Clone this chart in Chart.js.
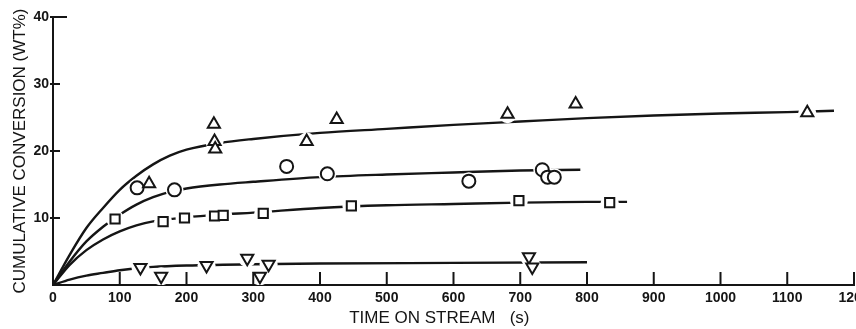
<!DOCTYPE html>
<html>
<head>
<meta charset="utf-8">
<script src="https://cdn.jsdelivr.net/npm/chart.js@4/dist/chart.umd.min.js"></script>
<style>
  html, body { margin: 0; padding: 0; background: #fff; }
  #wrap { width: 856px; height: 329px; overflow: hidden; }
</style>
</head>
<body>
<div id="wrap"><canvas id="chart" width="856" height="329"></canvas></div>
<script>
const triX = [144, 241, 242, 243, 380, 425, 681, 783, 1130]
const triY = [15.1, 24.0, 21.4, 20.3, 21.4, 24.7, 25.5, 27.0, 25.7]
const circX = [126, 182, 350, 411, 623, 733, 741, 751]
const circY = [14.5, 14.2, 17.7, 16.6, 15.5, 17.2, 16.1, 16.1]
const sqX = [93, 165, 197, 242, 255, 315, 447, 698, 834]
const sqY = [9.85, 9.45, 10.0, 10.3, 10.4, 10.7, 11.8, 12.6, 12.3]
const downX = [131, 162, 230, 291, 310, 323, 713, 718]
const downY = [2.6, 1.3, 2.9, 4.0, 1.3, 3.1, 4.2, 2.7]

// fitted curves
const triCurveX = [0, 25, 50, 75, 100, 125, 150, 175, 200, 250, 300, 400, 500, 600, 700, 800, 900, 1000, 1100, 1170]
const triCurveY = [0, 4.5, 8.5, 11.5, 14.2, 16.3, 18, 19.3, 20.2, 21.2, 21.8, 22.7, 23.3, 23.9, 24.4, 24.9, 25.3, 25.6, 25.8, 26]
const circCurveX = [0, 25, 50, 75, 100, 125, 150, 175, 200, 250, 300, 400, 500, 600, 700, 790]
const circCurveY = [0, 3.5, 6.5, 8.7, 10.5, 12, 13.1, 13.9, 14.4, 15, 15.4, 16.1, 16.5, 16.8, 17.1, 17.2]
const sqCurveX = [0, 25, 50, 75, 100, 125, 150, 200, 250, 300, 400, 500, 600, 700, 800, 860]
const sqCurveY = [0, 3, 5.2, 6.8, 8, 8.9, 9.5, 10.1, 10.5, 10.8, 11.5, 11.9, 12.1, 12.3, 12.4, 12.4]
const downCurveX = [0, 25, 50, 75, 100, 125, 150, 200, 300, 400, 600, 800]
const downCurveY = [0, 0.8, 1.4, 1.8, 2.2, 2.5, 2.7, 2.9, 3.1, 3.2, 3.3, 3.4]

const xTicks = [0, 100, 200, 300, 400, 500, 600, 700, 800, 900, 1000, 1100, 1200]
const yTicks = [0, 10, 20, 30, 40]

const ink = '#151515'
const font = 'Liberation Sans'

const pts = (xs, ys) => xs.map((x, i) => ({ x: x, y: ys[i] }))

const curve = (xs, ys) => ({
  type: 'line',
  data: pts(xs, ys),
  borderColor: ink,
  borderWidth: 2.4,
  pointRadius: 0,
  cubicInterpolationMode: 'monotone',
  fill: false,
  order: 3
})
// white blob under each marker so the curve breaks around it
const halo = (xs, ys, r) => ({
  data: pts(xs, ys),
  pointRadius: r,
  pointStyle: 'circle',
  backgroundColor: '#fff',
  borderWidth: 0,
  showLine: false,
  order: 2
})
const marker = (xs, ys, style, r, rot) => ({
  data: pts(xs, ys),
  pointStyle: style,
  pointRadius: r,
  rotation: rot || 0,
  backgroundColor: '#fff',
  borderColor: ink,
  borderWidth: 2,
  showLine: false,
  order: 1
})

//    ------- ticks pointing into the plot, plus the little stub at 40 ----------
const axisDeco = {
  id: 'axisDeco',
  afterDraw(chart) {
    const c = chart.ctx
    const xs = chart.scales.x
    const ys = chart.scales.y
    c.save()
    c.strokeStyle = ink
    c.lineWidth = 2
    c.beginPath()
    xTicks.forEach(v => {
      if (v === 0) return
      const px = xs.getPixelForValue(v)
      c.moveTo(px, ys.bottom)
      c.lineTo(px, ys.bottom - 13)
    })
    yTicks.forEach(v => {
      if (v === 0) return
      const py = ys.getPixelForValue(v)
      c.moveTo(xs.left - 3, py)
      c.lineTo(xs.left + (v === 40 ? 14 : 7), py)
    })
    c.stroke()
    c.restore()
  }
}

new Chart(document.getElementById('chart'), {
  type: 'scatter',
  data: {
    datasets: [
      curve(triCurveX, triCurveY),
      curve(circCurveX, circCurveY),
      curve(sqCurveX, sqCurveY),
      curve(downCurveX, downCurveY),
      halo(triX, triY, 9),
      halo(circX, circY, 9),
      halo(sqX, sqY, 9),
      halo(downX, downY, 9),
      marker(triX, triY, 'triangle', 7),
      marker(circX, circY, 'circle', 6.5),
      marker(sqX, sqY, 'rect', 6.5),
      marker(downX, downY, 'triangle', 7, 180)
    ]
  },
  options: {
    responsive: false,
    animation: false,
    layout: { autoPadding: false, padding: { top: 17, right: 2, left: 0, bottom: 0 } },
    plugins: { legend: { display: false }, tooltip: { enabled: false } },
    scales: {
      x: {
        type: 'linear',
        min: 0,
        max: 1200,
        afterBuildTicks: s => { s.ticks = xTicks.map(v => ({ value: v })) },
        afterFit: s => { s.height = 44; s.paddingRight = 0; s.paddingLeft = 0 },
        grid: { display: false, drawTicks: false },
        border: { color: ink, width: 2 },
        ticks: { color: ink, font: { family: font, size: 14, weight: 'bold' }, padding: 5, maxRotation: 0, autoSkip: false, callback: v => String(v) },
        title: { display: true, text: 'TIME ON STREAM   (s)      ', color: ink, font: { family: font, size: 17 }, padding: { top: 1, bottom: 0 } }
      },
      y: {
        min: 0,
        max: 40,
        afterBuildTicks: s => { s.ticks = yTicks.map(v => ({ value: v })) },
        afterFit: s => { s.width = 53 },
        grid: { drawOnChartArea: false, drawTicks: false },
        border: { color: ink, width: 2 },
        ticks: { color: ink, font: { family: font, size: 14, weight: 'bold' }, padding: 4, callback: v => (v === 0 ? '' : String(v)) },
        title: { display: true, text: 'CUMULATIVE CONVERSION (WT%)', color: ink, font: { family: font, size: 17 }, padding: { top: 10, bottom: 0 } }
      }
    }
  },
  plugins: [axisDeco]
})
</script>
</body>
</html>
